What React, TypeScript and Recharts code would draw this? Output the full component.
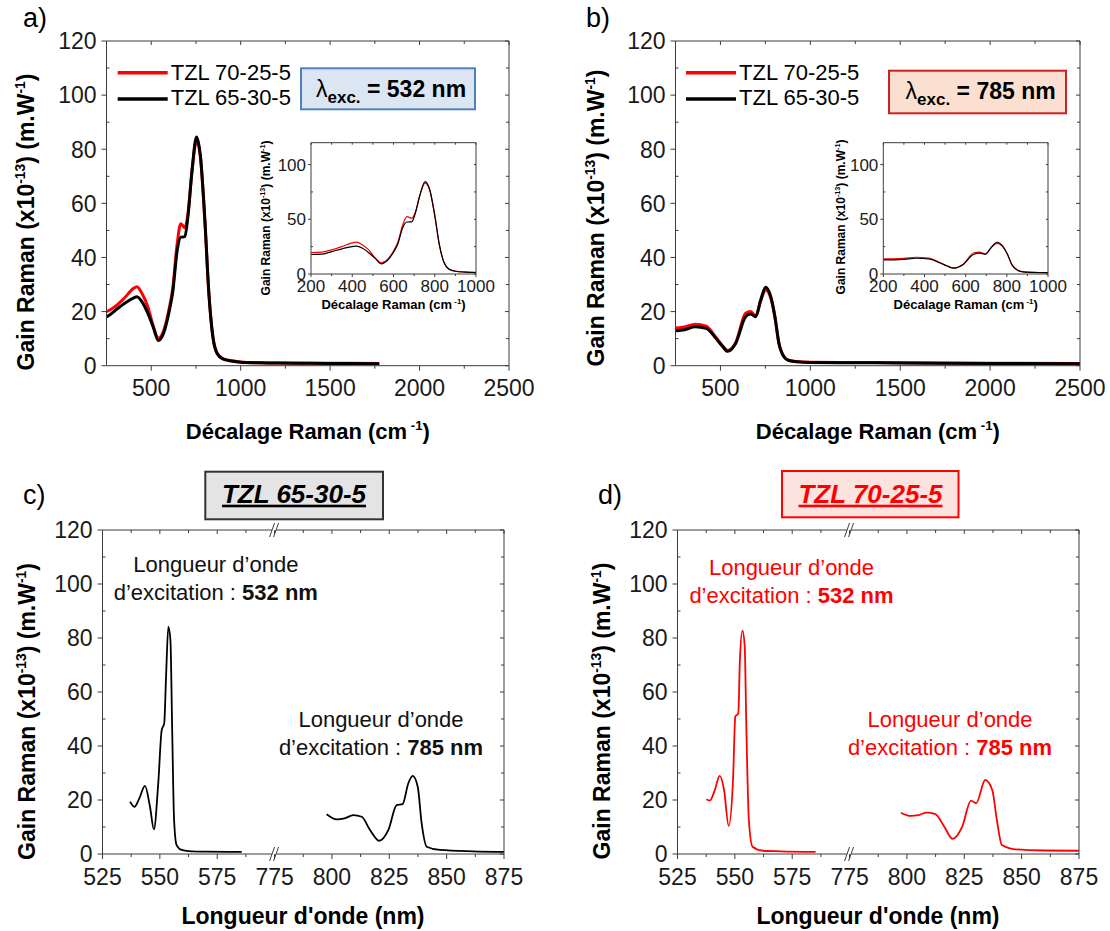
import React from "react";
import { LineChart, Line, XAxis, YAxis, ReferenceDot } from "recharts";

const W = 1110;
const H = 931;
const FONT = "'Liberation Sans', Arial, sans-serif";
const AXIS = "#3c3c3c";
const RED = "#ff0000";
const BLACK = "#000000";

const seriesNames = ["TZL 70-25-5", "TZL 65-30-5"];

// Raman gain vs Raman shift (cm-1), 532 nm excitation
const shift532 = [200, 250, 300, 350, 400, 420, 450, 480, 510, 540, 570, 600, 620, 645, 665, 688, 705, 728, 753, 775, 800, 822, 845, 868, 900, 950, 1000, 1100, 1200, 1400, 1600, 1775];
const red532 = [19.5, 20.0, 22.0, 25.0, 28.5, 29.2, 26.5, 22.0, 15.0, 10.2, 13.0, 21.0, 28.5, 45.0, 52.5, 51.0, 56.0, 72.0, 83.0, 77.0, 53.0, 27.0, 10.5, 4.6, 2.6, 1.8, 1.4, 1.1, 1.0, 0.9, 0.9, 0.8];
const black532 = [17.8, 18.1, 20.5, 23.0, 25.0, 25.5, 23.5, 19.5, 14.5, 9.3, 12.2, 20.0, 27.0, 42.5, 47.5, 47.7, 55.0, 72.0, 84.5, 77.5, 54.0, 27.0, 10.5, 4.6, 2.5, 1.7, 1.3, 1.1, 1.0, 0.9, 0.8, 0.7];

// 785 nm excitation
const shift785 = [200, 250, 300, 360, 420, 475, 510, 540, 585, 640, 668, 696, 724, 752, 780, 803, 825, 853, 880, 920, 1000, 1200, 1500, 2000, 2500];
const red785 = [13.8, 13.9, 14.3, 15.3, 14.6, 10.5, 7.5, 5.6, 8.5, 19.4, 20.0, 18.3, 24.0, 28.0, 25.0, 18.0, 8.5, 3.4, 2.0, 1.6, 1.3, 1.2, 1.1, 0.9, 0.8];
const black785 = [13.0, 12.9, 13.3, 14.4, 13.8, 10.1, 7.3, 5.3, 8.3, 18.1, 19.1, 18.1, 24.3, 29.0, 25.5, 18.1, 8.3, 3.3, 1.9, 1.5, 1.2, 1.1, 1.0, 0.8, 0.7];

// vs wavelength (nm) - TZL 65-30-5
const wl65vis = [537, 538.9, 541, 543.5, 545.7, 547.4, 549.3, 550.8, 551.9, 552.7, 553.7, 554.6, 555.4, 556.2, 557.3, 559.5, 563.9, 570, 585.7];
const gain65vis = [19.4, 17.5, 20.5, 25.2, 17.5, 9.1, 26.2, 45.9, 48.4, 65.7, 84.2, 79.3, 44.7, 12.6, 3.3, 1.5, 1.0, 0.9, 0.8];
const wl65nir = [797.7, 802.1, 805.5, 809.3, 813, 816.6, 820.6, 824.6, 828.2, 830.8, 833.3, 835.2, 837.4, 839.1, 841.3, 847.1, 861.6, 875];
const gain65nir = [14.7, 12.8, 13.2, 14.4, 13.8, 8.9, 4.9, 8.9, 18.1, 18.5, 26.2, 28.9, 24.9, 11.4, 2.7, 1.5, 1.0, 0.8];

// TZL 70-25-5
const wl70vis = [537.6, 539.1, 541.2, 543.4, 545.3, 547.3, 549.2, 550.2, 551.5, 552.2, 553.3, 554.3, 555.0, 556.1, 557.7, 562.3, 570, 585.2];
const gain70vis = [20.3, 19.8, 23.5, 28.9, 23.7, 10.4, 27.4, 50.9, 52.1, 71.9, 82.7, 76.8, 47.1, 12.6, 2.7, 1.2, 1.0, 0.8];
const wl70nir = [797.4, 801.6, 805, 808.6, 812.4, 816.3, 819.9, 824.1, 827.9, 830.2, 834.1, 837.2, 839.2, 841.4, 847.3, 860, 875];
const gain70nir = [15.3, 14.1, 14.4, 15.3, 14.8, 10.1, 5.6, 10.1, 19.8, 18.8, 27.4, 23.7, 12.6, 3.3, 1.7, 1.3, 1.2];

// ticks
const shiftTicks = [500, 750, 1000, 1250, 1500, 1750, 2000, 2250, 2500];
const shiftMajor = [500, 1000, 1500, 2000, 2500];
const gainTicks = [0, 10, 20, 30, 40, 50, 60, 70, 80, 90, 100, 110, 120];
const gainMajor = [0, 20, 40, 60, 80, 100, 120];
const insetShiftTicks = [200, 300, 400, 500, 600, 700, 800, 900, 1000];
const insetShiftMajor = [200, 400, 600, 800, 1000];
const insetGainTicks = [0, 25, 50, 75, 100];
const insetGainMajor = [0, 50, 100];
const wlTicks = [525, 537.5, 550, 562.5, 575, 587.5, 775, 787.5, 800, 812.5, 825, 837.5, 850, 862.5, 875];
const wlMajor = [525, 550, 575, 775, 800, 825, 850, 875];

// axis break: 600..775 nm removed
const GAP = 175;
const toDisp = (w: number) => (w >= 700 ? w - GAP : w);
const fromDisp = (d: number) => (d >= 600 ? d + GAP : d);

type Pt = { x: number; y: number };
const pts = (xs: number[], ys: number[], f = (v: number) => v): Pt[] => xs.map((x, i) => ({ x: f(x), y: ys[i] }));

type Side = "left" | "right" | "top" | "bottom";
type TickCfg = { side: Side; major: number[]; big: number; small: number; fs?: number; gap?: number; fmt?: (v: number) => string };
const isIn = (arr: number[], v: number) => arr.some((m) => Math.abs(m - v) < 1e-6);

function tickFn(c: TickCfg) {
  return (p: any) => {
    const x = p.x;
    const y = p.y;
    const v = Number(p.payload?.value);
    const maj = isIn(c.major, v);
    const len = maj ? c.big : c.small;
    let l: number[];
    if (c.side === "bottom") l = [x, y, x, y + len];
    else if (c.side === "top") l = [x, y, x, y + len];
    else if (c.side === "left") l = maj ? [x - len, y, x, y] : [x, y, x + len, y];
    else l = [x - len, y, x, y];
    let label = null;
    if (c.fs && maj) {
      const txt = c.fmt ? c.fmt(v) : String(v);
      label =
        c.side === "bottom" ? (
          <text x={x} y={y + (c.gap || 0)} textAnchor="middle" fontSize={c.fs} fontFamily={FONT} fill="#1a1a1a">{txt}</text>
        ) : (
          <text x={x - (c.gap || 0)} y={y} dy="0.36em" textAnchor="end" fontSize={c.fs} fontFamily={FONT} fill="#1a1a1a">{txt}</text>
        );
    }
    return (
      <g>
        <line x1={l[0]} y1={l[1]} x2={l[2]} y2={l[3]} stroke={AXIS} strokeWidth={1} />
        {label}
      </g>
    );
  };
}

const BreakMark = (p: any) => {
  const { cx, cy } = p;
  return (
    <g>
      <polygon points={`${cx - 5},${cy + 7} ${cx},${cy - 7} ${cx + 4},${cy - 7} ${cx - 1},${cy + 7}`} fill="#fff" />
      <line x1={cx - 5} y1={cy + 7} x2={cx} y2={cy - 7} stroke={AXIS} strokeWidth={1} />
      <line x1={cx - 1} y1={cy + 7} x2={cx + 4} y2={cy - 7} stroke={AXIS} strokeWidth={1} />
    </g>
  );
};

type Series = { data: Pt[]; color: string; width: number };
type Box = { l: number; t: number; r: number; b: number };
interface PanelProps {
  box: Box;
  xDomain: [number, number];
  xTicks: number[];
  xMajor: number[];
  xFmt?: (v: number) => string;
  yDomain: [number, number];
  yTicks: number[];
  yMajor: number[];
  series: Series[];
  fs: number;
  gapX: number;
  gapY: number;
  big: number;
  small: number;
  breakAt?: number;
}

// axes get a 1px band each (Recharts skips axes of zero size)
function Panel(p: PanelProps) {
  const { box } = p;
  const axisProps = { tickSize: 0, tickMargin: 0, tickLine: false, interval: 0 as const, axisLine: { stroke: AXIS, strokeWidth: 1 } };
  return (
    <div style={{ position: "absolute", left: 0, top: 0 }}>
      <LineChart width={W} height={H} margin={{ top: box.t - 1, left: box.l - 1, right: W - box.r - 1, bottom: H - box.b - 1 }}>
        <XAxis xAxisId={0} type="number" dataKey="x" domain={p.xDomain} ticks={p.xTicks} allowDataOverflow height={1} {...axisProps}
          tick={tickFn({ side: "bottom", major: p.xMajor, big: p.big, small: p.small, fs: p.fs, gap: p.gapX, fmt: p.xFmt })} />
        <XAxis xAxisId="top" orientation="top" type="number" dataKey="x" domain={p.xDomain} ticks={p.xTicks} allowDataOverflow height={1} {...axisProps}
          tick={tickFn({ side: "top", major: p.xMajor, big: p.big - 1, small: p.small })} />
        <YAxis yAxisId={0} type="number" domain={p.yDomain} ticks={p.yTicks} allowDataOverflow width={1} {...axisProps}
          tick={tickFn({ side: "left", major: p.yMajor, big: p.big, small: p.small, fs: p.fs, gap: p.gapY })} />
        <YAxis yAxisId="right" orientation="right" type="number" domain={p.yDomain} ticks={p.yTicks} allowDataOverflow width={1} {...axisProps}
          tick={tickFn({ side: "right", major: p.yMajor, big: p.big - 1, small: p.small })} />
        {p.series.map((s, i) => (
          <Line key={i} data={s.data} dataKey="y" type="monotone" stroke={s.color} strokeWidth={s.width} dot={false} activeDot={false} isAnimationActive={false} />
        ))}
        {p.breakAt !== undefined && (
          <ReferenceDot x={p.breakAt} y={p.yDomain[0]} ifOverflow="visible" shape={BreakMark} />
        )}
        {p.breakAt !== undefined && (
          <ReferenceDot x={p.breakAt} y={p.yDomain[1]} ifOverflow="visible" shape={BreakMark} />
        )}
      </LineChart>
    </div>
  );
}

function GainLabel({ x, y, size }: { x: number; y: number; size: number }) {
  const sup = size * 0.6;
  const up = size * 0.4;
  return (
    <text transform={`translate(${x},${y}) rotate(-90)`} textAnchor="middle" fontWeight="bold" fontSize={size} fontFamily={FONT}>
      Gain Raman (x10<tspan fontSize={sup} dy={-up}>-13</tspan>
      <tspan dy={up}>) (m.W</tspan>
      <tspan fontSize={sup} dy={-up}>-1</tspan>
      <tspan dy={up}>)</tspan>
    </text>
  );
}

function ShiftLabel({ x, y, size }: { x: number; y: number; size: number }) {
  const sup = size * 0.6;
  const up = size * 0.4;
  return (
    <text x={x} y={y} textAnchor="middle" fontWeight="bold" fontSize={size} fontFamily={FONT}>
      Décalage Raman (cm<tspan fontSize={sup} dy={-up}> -1</tspan>
      <tspan dy={up}>)</tspan>
    </text>
  );
}

function Lambda({ x, y, nm }: { x: number; y: number; nm: string }) {
  return (
    <text x={x} y={y} fontFamily={FONT} fontSize={23}>
      λ<tspan fontSize={17} fontWeight="bold" dy={6}>exc.</tspan>
      <tspan fontWeight="bold" dy={-6}> = {nm}</tspan>
    </text>
  );
}

function Legend2({ x, y }: { x: number; y: number }) {
  return (
    <g fontFamily={FONT} fontSize={22}>
      <line x1={x} x2={x + 50} y1={y} y2={y} stroke={RED} strokeWidth={3.5} />
      <text x={x + 53} y={y + 7.5}>{seriesNames[0]}</text>
      <line x1={x} x2={x + 50} y1={y + 26.3} y2={y + 26.3} stroke={BLACK} strokeWidth={3.5} />
      <text x={x + 53} y={y + 32.5}>{seriesNames[1]}</text>
    </g>
  );
}

function Note({ cx, y, nm, color }: { cx: number; y: number; nm: string; color: string }) {
  return (
    <g fontFamily={FONT} fontSize={22} fill={color} textAnchor="middle">
      <text x={cx} y={y}>Longueur d’onde</text>
      <text x={cx} y={y + 27.5}>
        d’excitation : <tspan fontWeight="bold">{nm}</tspan>
      </text>
    </g>
  );
}

export default function App() {
  const boxA = { l: 106.5, t: 41, r: 509, b: 365.7 };
  const boxB = { l: 675.5, t: 41, r: 1080, b: 365.7 };
  const insA = { l: 311, t: 142.7, r: 476, b: 274 };
  const insB = { l: 883.3, t: 142.7, r: 1048, b: 274 };
  const boxC = { l: 102.5, t: 530, r: 504, b: 854 };
  const boxD = { l: 677.5, t: 530, r: 1079, b: 854 };

  const mainCommon = {
    yDomain: [0, 120] as [number, number],
    yTicks: gainTicks,
    yMajor: gainMajor,
    fs: 23,
    gapY: 10,
    big: 5,
    small: 3,
  };
  const insetCommon = {
    xDomain: [200, 1000] as [number, number],
    xTicks: insetShiftTicks,
    xMajor: insetShiftMajor,
    yDomain: [0, 120] as [number, number],
    yTicks: insetGainTicks,
    yMajor: insetGainMajor,
    fs: 17,
    gapX: 18,
    gapY: 5,
    big: 3,
    small: 2,
  };

  return (
    <div style={{ position: "absolute", left: 0, top: 0, width: W, height: H, background: "#fff", overflow: "hidden" }}>
      <Panel box={boxA} xDomain={[250, 2500]} xTicks={shiftTicks} xMajor={shiftMajor} gapX={30} {...mainCommon}
        series={[
          { data: pts(shift532, red532), color: RED, width: 3 },
          { data: pts(shift532, black532), color: BLACK, width: 3 },
        ]} />
      <Panel box={boxB} xDomain={[250, 2500]} xTicks={shiftTicks} xMajor={shiftMajor} gapX={30} {...mainCommon}
        series={[
          { data: pts(shift785, red785), color: RED, width: 3 },
          { data: pts(shift785, black785), color: BLACK, width: 3 },
        ]} />
      <Panel box={insA} {...insetCommon}
        series={[
          { data: pts(shift532, red532), color: RED, width: 1.2 },
          { data: pts(shift532, black532), color: BLACK, width: 1.2 },
        ]} />
      <Panel box={insB} {...insetCommon}
        series={[
          { data: pts(shift785, red785), color: RED, width: 1.2 },
          { data: pts(shift785, black785), color: BLACK, width: 1.2 },
        ]} />
      <Panel box={boxC} xDomain={[525, 700]} xTicks={wlTicks.map(toDisp)} xMajor={wlMajor.map(toDisp)} xFmt={(d) => String(fromDisp(d))}
        gapX={31} breakAt={600} {...mainCommon}
        series={[
          { data: pts(wl65vis, gain65vis, toDisp), color: BLACK, width: 1.8 },
          { data: pts(wl65nir, gain65nir, toDisp), color: BLACK, width: 1.8 },
        ]} />
      <Panel box={boxD} xDomain={[525, 700]} xTicks={wlTicks.map(toDisp)} xMajor={wlMajor.map(toDisp)} xFmt={(d) => String(fromDisp(d))}
        gapX={31} breakAt={600} {...mainCommon}
        series={[
          { data: pts(wl70vis, gain70vis, toDisp), color: RED, width: 1.8 },
          { data: pts(wl70nir, gain70nir, toDisp), color: RED, width: 1.8 },
        ]} />

      <svg width={W} height={H} style={{ position: "absolute", left: 0, top: 0 }}>
        <g fontFamily={FONT} fontSize={27}>
          <text x={23} y={27}>a)</text>
          <text x={586} y={27}>b)</text>
          <text x={23} y={504}>c)</text>
          <text x={598} y={504}>d)</text>
        </g>

        <GainLabel x={34} y={222} size={23} />
        <GainLabel x={604} y={218} size={23} />
        <GainLabel x={35} y={711.5} size={23} />
        <GainLabel x={610} y={711} size={23} />
        <GainLabel x={270} y={218} size={12} />
        <GainLabel x={844.5} y={217} size={12} />

        <ShiftLabel x={307.8} y={439} size={22} />
        <ShiftLabel x={877.8} y={439} size={22} />
        <ShiftLabel x={393.5} y={309} size={13} />
        <ShiftLabel x={965.7} y={309} size={13} />

        <text x={303} y={923.5} textAnchor="middle" fontWeight="bold" fontSize={23} fontFamily={FONT}>Longueur d'onde (nm)</text>
        <text x={878} y={923.5} textAnchor="middle" fontWeight="bold" fontSize={23} fontFamily={FONT}>Longueur d'onde (nm)</text>

        <Legend2 x={117.7} y={72.7} />
        <Legend2 x={686} y={72.7} />

        <rect x={301} y={68.3} width={174} height={41} fill="#dce6f2" stroke="#4f81bd" strokeWidth={2} />
        <Lambda x={316} y={96.5} nm="532 nm" />
        <rect x={889} y={70.7} width={177} height={42.6} fill="#fbe0d2" stroke="#d02020" strokeWidth={2} />
        <Lambda x={905.6} y={99} nm="785 nm" />

        <rect x={205.3} y={471.7} width={177.7} height={47.6} fill="#e4e4e4" stroke="#333" strokeWidth={2} />
        <text x={294} y={502.7} textAnchor="middle" fontSize={26} fontWeight="bold" fontStyle="italic" fontFamily={FONT}
          style={{ textDecoration: "underline" }}>TZL 65-30-5</text>
        <rect x={782} y={471} width={176.5} height={46.3} fill="#fde3e0" stroke={RED} strokeWidth={2} />
        <text x={870.5} y={502.7} textAnchor="middle" fontSize={26} fontWeight="bold" fontStyle="italic" fontFamily={FONT} fill={RED}
          style={{ textDecoration: "underline" }}>TZL 70-25-5</text>

        <Note cx={215.8} y={572} nm="532 nm" color="#111" />
        <Note cx={381} y={727} nm="785 nm" color="#111" />
        <Note cx={791.5} y={575} nm="532 nm" color={RED} />
        <Note cx={950} y={727} nm="785 nm" color={RED} />
      </svg>
    </div>
  );
}
